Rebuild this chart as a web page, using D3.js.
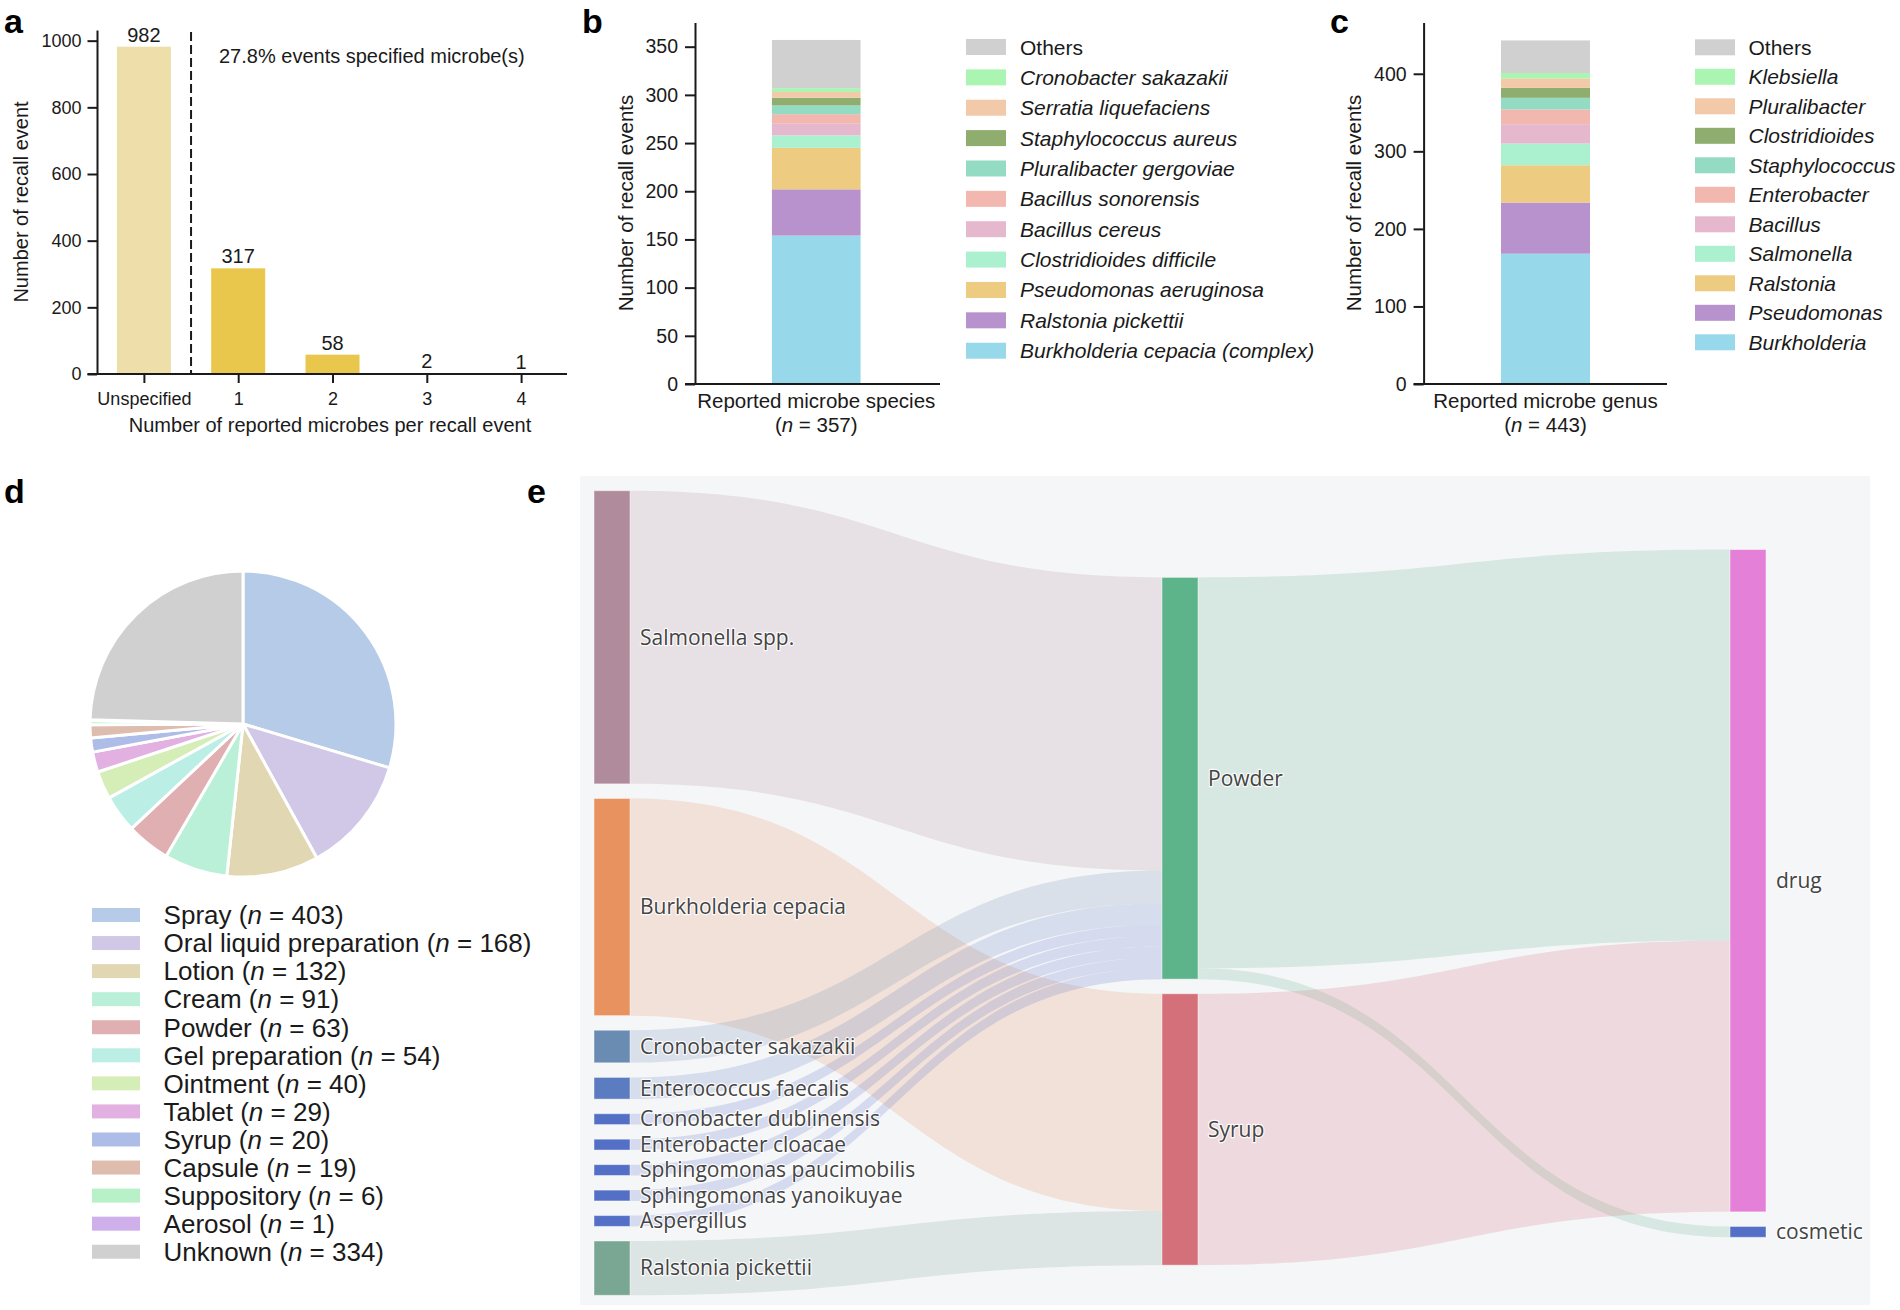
<!DOCTYPE html>
<html>
<head>
<meta charset="utf-8">
<script src="https://cdn.jsdelivr.net/npm/d3@7"></script>
<style>
html,body{margin:0;padding:0;background:#fff;}
svg{display:block;}
</style>
</head>
<body>
<svg id="chart" width="1900" height="1310"></svg>
<script>
// ================= DATA =================
// Panel a
const aCategories = ["Unspecified", "1", "2", "3", "4"];
const aValues = [982, 317, 58, 2, 1];
const aYTicks = [0, 200, 400, 600, 800, 1000];

// Panel b (bottom -> top)
const bSpecies = ["Burkholderia cepacia (complex)", "Ralstonia pickettii", "Pseudomonas aeruginosa",
  "Clostridioides difficile", "Bacillus cereus", "Bacillus sonorensis", "Pluralibacter gergoviae",
  "Staphylococcus aureus", "Serratia liquefaciens", "Cronobacter sakazakii", "Others"];
const bValues = [154, 48, 43, 13, 12, 10, 9, 8, 6, 4, 50];
const bYTicks = [0, 50, 100, 150, 200, 250, 300, 350];

// Panel c (bottom -> top)
const cGenus = ["Burkholderia", "Pseudomonas", "Ralstonia", "Salmonella", "Bacillus", "Enterobacter",
  "Staphylococcus", "Clostridioides", "Pluralibacter", "Klebsiella", "Others"];
const cValues = [168, 66, 48, 28, 25, 19, 15, 13, 12, 7, 42];
const cYTicks = [0, 100, 200, 300, 400];

const stackColors = ["#97D9EB", "#B792CD", "#EDCB80", "#ABF0CF", "#E6B8CE", "#F2B8AF",
  "#94DBC4", "#8FAD6F", "#F2C9A9", "#ABF5B2", "#D0D0D0"];

// Panel d
const dForms = ["Spray", "Oral liquid preparation", "Lotion", "Cream", "Powder", "Gel preparation",
  "Ointment", "Tablet", "Syrup", "Capsule", "Suppository", "Aerosol", "Unknown"];
const dCounts = [403, 168, 132, 91, 63, 54, 40, 29, 20, 19, 6, 1, 334];
const dColors = ["#B5CBE8", "#D0C8E6", "#E1D7B3", "#BBF0D8", "#DFAFB1", "#BBEFE6", "#D5EDB6",
  "#E2B1E2", "#AEBCE8", "#DEBDAF", "#B8F0C8", "#CFB0EA", "#D0D0D0"];

// Panel e (sankey)
const sankeyNodeNames = ["Salmonella spp.", "Burkholderia cepacia", "Cronobacter sakazakii",
  "Enterococcus faecalis", "Cronobacter dublinensis", "Enterobacter cloacae",
  "Sphingomonas paucimobilis", "Sphingomonas yanoikuyae", "Aspergillus", "Ralstonia pickettii",
  "Powder", "Syrup", "drug", "cosmetic"];
const sankeyNodeColors = ["#B08B9C", "#E8935F", "#6A8CB2", "#5B7CC0", "#5470C6", "#5470C6",
  "#5470C6", "#5470C6", "#5470C6", "#7AA694", "#5DB38A", "#D4707A", "#E580D9", "#5470C6"];
const sankeyLinkSource = ["Salmonella spp.", "Burkholderia cepacia", "Cronobacter sakazakii",
  "Enterococcus faecalis", "Cronobacter dublinensis", "Enterobacter cloacae",
  "Sphingomonas paucimobilis", "Sphingomonas yanoikuyae", "Aspergillus", "Ralstonia pickettii",
  "Powder", "Powder", "Syrup"];
const sankeyLinkTarget = ["Powder", "Syrup", "Powder", "Powder", "Powder", "Powder", "Powder",
  "Powder", "Powder", "Syrup", "drug", "cosmetic", "drug"];
const sankeyLinkValue = [27, 20, 3, 2, 1, 1, 1, 1, 1, 5, 36, 1, 25];

// ================= DRAWING =================
const FONT = "'Liberation Sans', Arial, Helvetica, sans-serif";
const SFONT = "'Open Sans', 'Noto Sans', sans-serif";
const INK = "#1a1a1a";
const svg = d3.select("#chart");
svg.append("rect").attr("width", 1900).attr("height", 1310).attr("fill", "#fff");

function styleAxis(g, size) {
  g.attr("font-family", FONT).attr("font-size", size);
  g.selectAll("path.domain").attr("stroke", INK).attr("stroke-width", 2);
  g.selectAll(".tick line").attr("stroke", INK).attr("stroke-width", 2);
  g.selectAll(".tick text").attr("fill", INK);
}

// panel letters
[["a", 4, 33], ["b", 582, 33], ["c", 1330, 33], ["d", 4, 503], ["e", 527, 503]].forEach(([t, x, y]) => {
  svg.append("text").attr("x", x).attr("y", y).text(t)
    .attr("font-family", FONT).attr("font-weight", "bold").attr("font-size", 34).attr("fill", "#000");
});

// ---------- Panel a ----------
(function () {
  const g = svg.append("g");
  const x = d3.scalePoint().domain(aCategories).range([143.9, 521.1]);
  const y = d3.scaleLinear().domain([0, 1032]).range([374, 30]);
  const bw = 54;
  g.selectAll("rect.bar").data(aCategories).join("rect")
    .attr("x", d => x(d) - bw / 2)
    .attr("y", (d, i) => y(aValues[i]))
    .attr("width", bw)
    .attr("height", (d, i) => y(0) - y(aValues[i]))
    .attr("fill", (d, i) => i === 0 ? "#EEDFAA" : "#E9C74C");
  g.selectAll("text.val").data(aCategories).join("text")
    .attr("x", d => x(d)).attr("y", (d, i) => y(aValues[i]) - 5)
    .attr("text-anchor", "middle").attr("font-family", FONT).attr("font-size", 20).attr("fill", INK)
    .text((d, i) => aValues[i]);
  // y axis
  const ya = g.append("g").attr("transform", "translate(97,0)")
    .call(d3.axisLeft(y).tickValues(aYTicks).tickFormat(d3.format("d"))
      .tickSize(9.5).tickPadding(6).tickSizeOuter(0));
  styleAxis(ya, 18);
  // x axis
  const xa = g.append("g").attr("transform", "translate(0,374)")
    .call(d3.axisBottom(x).tickSize(9).tickPadding(9).tickSizeOuter(0));
  styleAxis(xa, 18);
  xa.select("path.domain").remove();
  g.append("line").attr("x1", 87.5).attr("x2", 567).attr("y1", 374).attr("y2", 374)
    .attr("stroke", INK).attr("stroke-width", 2);
  // dashed separator
  const sx = (x(aCategories[0]) + x(aCategories[1])) / 2;
  g.append("line").attr("x1", sx).attr("x2", sx).attr("y1", 32).attr("y2", 374)
    .attr("stroke", INK).attr("stroke-width", 2).attr("stroke-dasharray", "9,4");
  const pct = d3.sum(aValues.slice(1)) / d3.sum(aValues);
  g.append("text").attr("x", 219).attr("y", 63).attr("font-family", FONT).attr("font-size", 20)
    .attr("fill", INK).text(d3.format(".1%")(pct) + " events specified microbe(s)");
  g.append("text").attr("x", 330).attr("y", 432).attr("text-anchor", "middle")
    .attr("font-family", FONT).attr("font-size", 20).attr("fill", INK)
    .text("Number of reported microbes per recall event");
  g.append("text").attr("transform", "translate(28,202) rotate(-90)").attr("text-anchor", "middle")
    .attr("font-family", FONT).attr("font-size", 20).attr("fill", INK).text("Number of recall event");
})();

// ---------- stacked bar helper (b, c) ----------
function stackedPanel(opt) {
  const g = svg.append("g");
  const y = d3.scaleLinear().domain(opt.domain).range([384, 22.6]);
  const x = d3.scaleBand().domain([opt.xLabel]).range(opt.bandRange).paddingInner(0).paddingOuter(0.5);
  const ends = Array.from(d3.cumsum(opt.values));
  const starts = ends.map((e, i) => e - opt.values[i]);
  g.selectAll("rect.seg").data(opt.values).join("rect")
    .attr("x", x(opt.xLabel)).attr("width", x.bandwidth())
    .attr("y", (d, i) => y(ends[i])).attr("height", (d, i) => y(starts[i]) - y(ends[i]))
    .attr("fill", (d, i) => stackColors[i]);
  const ya = g.append("g").attr("transform", `translate(${opt.axisX},0)`)
    .call(d3.axisLeft(y).tickValues(opt.ticks).tickFormat(d3.format("d"))
      .tickSize(10).tickPadding(7).tickSizeOuter(0));
  styleAxis(ya, 19.5);
  g.append("line").attr("x1", opt.axisX - 10).attr("x2", opt.xEnd).attr("y1", 384).attr("y2", 384)
    .attr("stroke", INK).attr("stroke-width", 2);
  const cx = x(opt.xLabel) + x.bandwidth() / 2;
  g.append("text").attr("x", cx).attr("y", 408).attr("text-anchor", "middle")
    .attr("font-family", FONT).attr("font-size", 20.5).attr("fill", INK).text(opt.xLabel);
  const t2 = g.append("text").attr("x", cx).attr("y", 432).attr("text-anchor", "middle")
    .attr("font-family", FONT).attr("font-size", 20.5).attr("fill", INK);
  t2.append("tspan").text("(");
  t2.append("tspan").attr("font-style", "italic").text("n");
  t2.append("tspan").text(" = " + d3.sum(opt.values) + ")");
  g.append("text").attr("transform", `translate(${opt.titleX},203) rotate(-90)`).attr("text-anchor", "middle")
    .attr("font-family", FONT).attr("font-size", 20.5).attr("fill", INK).text("Number of recall events");
  // legend (top -> bottom = reversed stack order)
  const n = opt.names.length;
  const rows = opt.names.map((name, i) => ({name, color: stackColors[i], row: n - 1 - i}));
  const lg = g.append("g");
  lg.selectAll("rect").data(rows).join("rect")
    .attr("x", opt.legX).attr("width", 40).attr("height", 16)
    .attr("y", d => opt.legY0 + d.row * opt.legStep - 8).attr("fill", d => d.color);
  lg.selectAll("text").data(rows).join("text")
    .attr("x", opt.legX + opt.legTextDx).attr("y", d => opt.legY0 + d.row * opt.legStep + 7.5)
    .attr("font-family", FONT).attr("font-size", 21).attr("fill", INK)
    .attr("font-style", d => d.name === "Others" ? "normal" : "italic")
    .text(d => d.name);
}

stackedPanel({
  values: bValues, names: bSpecies, ticks: bYTicks, domain: [0, 375],
  xLabel: "Reported microbe species", bandRange: [727.6, 904.9], axisX: 695, xEnd: 940,
  titleX: 633, legX: 966, legTextDx: 54, legY0: 47, legStep: 30.37
});
stackedPanel({
  values: cValues, names: cGenus, ticks: cYTicks, domain: [0, 466],
  xLabel: "Reported microbe genus", bandRange: [1456.5, 1634.5], axisX: 1423.6, xEnd: 1667,
  titleX: 1361, legX: 1695, legTextDx: 53.5, legY0: 47.3, legStep: 29.5
});

// ---------- Panel d (pie) ----------
(function () {
  const g = svg.append("g").attr("transform", "translate(243,724)");
  const pie = d3.pie().sort(null).value(d => d)(dCounts);
  const arc = d3.arc().innerRadius(0).outerRadius(153);
  g.selectAll("path").data(pie).join("path")
    .attr("d", arc).attr("fill", (d, i) => dColors[i])
    .attr("stroke", "#fff").attr("stroke-width", 3).attr("stroke-linejoin", "round");
  const lg = svg.append("g");
  lg.selectAll("rect").data(dForms).join("rect")
    .attr("x", 92).attr("width", 48).attr("height", 14)
    .attr("y", (d, i) => 915 + i * 28.06 - 7).attr("fill", (d, i) => dColors[i]);
  dForms.forEach((name, i) => {
    const t = lg.append("text").attr("x", 163.6).attr("y", 915 + i * 28.06 + 9.3)
      .attr("font-family", FONT).attr("font-size", 26).attr("fill", INK);
    t.append("tspan").text(name + " (");
    t.append("tspan").attr("font-style", "italic").text("n");
    t.append("tspan").text(" = " + dCounts[i] + ")");
  });
})();

// ---------- Panel e (sankey) ----------
function sankeyLayout(names, srcs, tgts, vals, opt) {
  const nodes = names.map((name, i) => ({name, index: i, inEdges: [], outEdges: []}));
  const byName = new Map(nodes.map(n => [n.name, n]));
  const edges = srcs.map((s, i) => ({node1: byName.get(s), node2: byName.get(tgts[i]), value: vals[i], index: i}));
  edges.forEach(e => { e.node1.outEdges.push(e); e.node2.inEdges.push(e); });
  nodes.forEach(n => {
    n.value = Math.max(d3.sum(n.inEdges, e => e.value), d3.sum(n.outEdges, e => e.value));
  });
  const indeg = nodes.map(n => n.inEdges.length);
  let zero = nodes.filter((n, i) => indeg[i] === 0), next = [], depth = 0;
  while (zero.length) {
    for (const node of zero) {
      node.depth = depth;
      for (const e of node.outEdges) {
        const t = e.node2;
        if (--indeg[t.index] === 0 && next.indexOf(t) < 0) next.push(t);
      }
    }
    ++depth; zero = next; next = [];
  }
  const maxDepth = depth - 1;
  const kx = (opt.width - opt.nodeWidth) / maxDepth;
  nodes.forEach(n => { n.x = n.depth * kx; n.dx = opt.nodeWidth; });
  const cols = Array.from(d3.group(nodes, n => n.depth)).sort((a, b) => a[0] - b[0]).map(d => d[1]);
  const ky = d3.min(cols, c => (opt.height - (c.length - 1) * opt.nodeGap) / d3.sum(c, n => n.value));
  cols.forEach(c => c.forEach((n, i) => { n.y = i; n.dy = n.value * ky; }));
  edges.forEach(e => { e.dy = e.value * ky; });
  const center = n => n.y + n.dy / 2;
  function resolve() {
    cols.forEach(c => {
      let y0 = 0, node;
      for (let i = 0; i < c.length; i++) {
        node = c[i];
        const d = y0 - node.y;
        if (d > 0) node.y += d;
        y0 = node.y + node.dy + opt.nodeGap;
      }
      let d = y0 - opt.nodeGap - opt.height;
      if (d > 0) {
        node.y -= d; y0 = node.y;
        for (let i = c.length - 2; i >= 0; --i) {
          node = c[i];
          d = node.y + node.dy + opt.nodeGap - y0;
          if (d > 0) node.y -= d;
          y0 = node.y;
        }
      }
    });
  }
  function relaxRL(alpha) {
    cols.slice().reverse().forEach(c => c.forEach(n => {
      if (n.outEdges.length) {
        const t = d3.sum(n.outEdges, e => center(e.node2) * e.value) / d3.sum(n.outEdges, e => e.value);
        n.y += (t - center(n)) * alpha;
      }
    }));
  }
  function relaxLR(alpha) {
    cols.forEach(c => c.forEach(n => {
      if (n.inEdges.length) {
        const t = d3.sum(n.inEdges, e => center(e.node1) * e.value) / d3.sum(n.inEdges, e => e.value);
        n.y += (t - center(n)) * alpha;
      }
    }));
  }
  resolve();
  for (let alpha = 1, it = opt.iterations; it > 0; it--) {
    alpha *= 0.99;
    relaxRL(alpha); resolve();
    relaxLR(alpha); resolve();
  }
  nodes.forEach(n => {
    n.outEdges.sort((a, b) => a.node2.y - b.node2.y);
    n.inEdges.sort((a, b) => a.node1.y - b.node1.y);
  });
  nodes.forEach(n => {
    let sy = 0, ty = 0;
    n.outEdges.forEach(e => { e.sy = sy; sy += e.dy; });
    n.inEdges.forEach(e => { e.ty = ty; ty += e.dy; });
  });
  return {nodes, edges};
}

(function () {
  const box = {x: 580, y: 476, w: 1290, h: 829};
  svg.append("rect").attr("x", box.x).attr("y", box.y).attr("width", box.w).attr("height", box.h)
    .attr("fill", "#F5F6F8");
  const L = {x0: 594, y0: 490.7, width: 1172, height: 804.6, nodeWidth: 36, nodeGap: 14.6, iterations: 32};
  const {nodes, edges} = sankeyLayout(sankeyNodeNames, sankeyLinkSource, sankeyLinkTarget, sankeyLinkValue, L);
  const colorOf = new Map(sankeyNodeNames.map((n, i) => [n, sankeyNodeColors[i]]));
  const g = svg.append("g").attr("transform", `translate(${L.x0},${L.y0})`);
  const curv = 0.5;
  function band(e) {
    const x1 = e.node1.x + e.node1.dx, x2 = e.node2.x;
    const y1 = e.node1.y + e.sy, y2 = e.node2.y + e.ty, w = e.dy;
    const c1 = x1 * (1 - curv) + x2 * curv, c2 = x1 * curv + x2 * (1 - curv);
    return `M${x1},${y1}C${c1},${y1} ${c2},${y2} ${x2},${y2}L${x2},${y2 + w}` +
      `C${c2},${y2 + w} ${c1},${y1 + w} ${x1},${y1 + w}Z`;
  }
  g.selectAll("path.link").data(edges).join("path")
    .attr("d", band).attr("fill", e => colorOf.get(e.node1.name)).attr("fill-opacity", 0.2);
  g.selectAll("rect.node").data(nodes).join("rect")
    .attr("x", n => n.x).attr("y", n => n.y).attr("width", n => n.dx).attr("height", n => n.dy)
    .attr("fill", n => colorOf.get(n.name))
    .attr("stroke", "rgba(255,255,255,0.45)").attr("stroke-width", 1);
  g.selectAll("text.lab").data(nodes).join("text")
    .attr("x", n => n.x + n.dx + 10).attr("y", n => n.y + n.dy / 2).attr("dy", "0.35em")
    .attr("font-family", SFONT).attr("font-size", 21).attr("fill", "#444")
    .attr("stroke", "#fff").attr("stroke-width", 2.5).attr("stroke-opacity", 0.85)
    .attr("paint-order", "stroke").attr("stroke-linejoin", "round")
    .text(n => n.name);
})();
</script>
</body>
</html>
